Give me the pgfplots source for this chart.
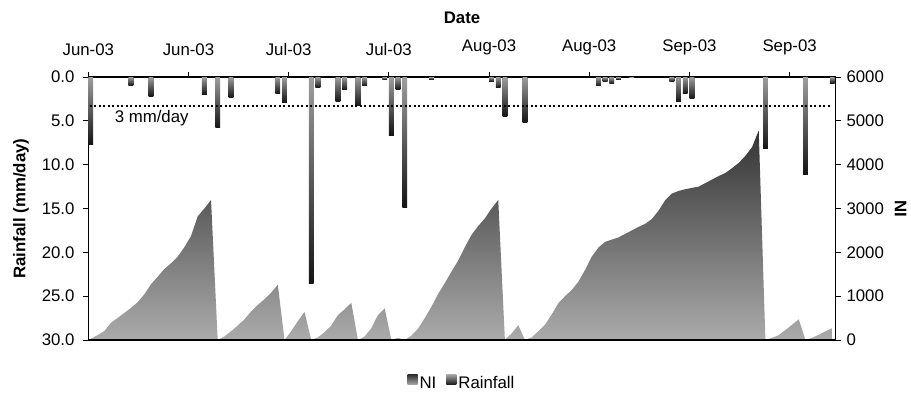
\documentclass[border=0pt]{standalone}
\usepackage{fontspec}
\setmainfont{Liberation Sans}
\usepackage{pgfplots}
\pgfplotsset{compat=1.18}
\usepackage{pgfplotstable}

\pgfplotstableread{
day rain
0 7.7
6 1.0
9 2.2
17 2.0
19 5.8
21 2.35
28 1.9
29 2.9
33 23.6
34 1.2
37 2.8
38 1.45
40 3.3
41 1.0
44 0.25
45 6.65
46 1.45
47 14.9
51 0.25
60 0.5
61 1.2
62 4.5
65 5.2
76 1.0
77 0.5
78 0.75
79 0.25
81 0.1
87 0.5
88 2.8
89 1.9
90 2.5
101 8.2
107 11.1
111 0.7
}\raintable

\pgfplotstableread{
day ni
0 30
1 110
2 200
3 390
4 500
5 615
6 730
7 860
8 1040
9 1270
10 1440
11 1620
12 1750
13 1900
14 2115
15 2370
16 2820
17 3000
18 3195
19 0
20 80
21 200
22 330
23 470
24 650
25 800
26 930
27 1080
28 1260
29 0
30 200
31 430
32 640
33 0
34 60
35 180
36 330
37 570
38 700
39 850
40 0
41 80
42 270
43 570
44 720
45 0
46 50
47 0
48 100
49 260
50 500
51 760
52 1050
53 1300
54 1560
55 1810
56 2120
57 2400
58 2600
59 2775
60 3000
61 3195
62 0
63 150
64 340
65 0
66 60
67 200
68 350
69 580
70 840
71 1000
72 1140
73 1330
74 1600
75 1900
76 2110
77 2240
78 2290
79 2340
80 2420
81 2500
82 2580
83 2650
84 2760
85 2950
86 3190
87 3340
88 3400
89 3440
90 3470
91 3500
92 3580
93 3660
94 3740
95 3810
96 3920
97 4040
98 4200
99 4400
100 4780
101 0
102 50
103 110
104 230
105 350
106 470
107 0
108 50
109 120
110 200
111 270
}\nitable

\begin{document}
\fontsize{16.8}{20}\selectfont
\begin{tikzpicture}
\pgfplotsset{
  base/.style={
    scale only axis, width=747.4pt, height=263pt,
    xmin=0, xmax=111.9,
    clip mode=individual,
    tick align=outside,
    major tick length=5pt,
    axis line style={line width=1.2pt},
    every tick/.style={black, line width=1pt},
    tick label style={font=\fontsize{16.8}{20}\selectfont},
    /pgf/number format/assume math mode=true,
  },
  nistyle/.style={draw=none, top color=black!80, middle color=black!47, bottom color=black!33},
  rainstyle/.style={draw=none, top color=black!38, middle color=black!55, bottom color=black!92},
}
\begin{axis}[base, name=ni,
  ymin=0, ymax=6000, ytick={0,1000,...,6000},
  ytick pos=right, xtick=\empty,
  yticklabel style={/pgf/number format/1000 sep={}},
  legend style={at={(axis description cs:0.5,-0.167)}, anchor=center, draw=none, fill=none,
    legend columns=-1, font=\fontsize{16.8}{20}\selectfont,
    /tikz/every even column/.append style={column sep=8pt}},
  legend cell align=left,
  legend image code/.code={\path[#1,draw=none] (0pt,-1pt) rectangle (10pt,9pt);},
]
\addplot[nistyle] table[x expr=\thisrow{day}+0.375, y=ni] {\nitable} \closedcycle;
\addlegendentry{NI}
\addlegendimage{rainstyle}
\addlegendentry{Rainfall}
\node[font=\bfseries\fontsize{16.8}{20}\selectfont, anchor=center] at (axis description cs:0.5,1.226) {Date};
\node[font=\bfseries\fontsize{16.8}{20}\selectfont, anchor=center, rotate=90] at (axis description cs:-0.09,0.5) {Rainfall (mm/day)};
\node[font=\bfseries\fontsize{16.8}{20}\selectfont, anchor=center, rotate=-90] at (axis description cs:1.087,0.5) {NI};
\end{axis}
\begin{axis}[base, name=rain,
  ymin=0, ymax=30, y dir=reverse,
  ytick={0,5,...,30}, ytick pos=left,
  yticklabel style={xshift=-3pt, /pgf/number format/.cd, fixed, fixed zerofill, precision=1},
  xtick={0,15,...,105},
  xticklabels={Jun-03,Jun-03,Jul-03,Jul-03,Aug-03,Aug-03,Sep-03,Sep-03},
  xtick pos=right, xticklabel pos=right,
  xticklabel style={yshift=11pt},
]
\pgfplotsinvokeforeach{0,...,34}{
  \addplot[ybar, bar width=0.72, bar shift=0pt, rainstyle,
    restrict expr to domain={\coordindex}{#1:#1}]
    table[x expr=\thisrow{day}+0.375, y=rain] {\raintable};
}
\addplot[black, line width=2pt, dash pattern=on 2pt off 2.5pt] coordinates {(0.2,3.3) (111.2,3.3)};
\node[anchor=west, font=\fontsize{16.8}{20}\selectfont] at (axis cs:3.1,4.75) {3 mm/day};
\end{axis}
\pgfresetboundingbox
\path[use as bounding box] ([xshift=-88.3pt,yshift=-52pt]ni.south west) rectangle ([xshift=822.7pt,yshift=340pt]ni.south west);
\end{tikzpicture}
\end{document}
